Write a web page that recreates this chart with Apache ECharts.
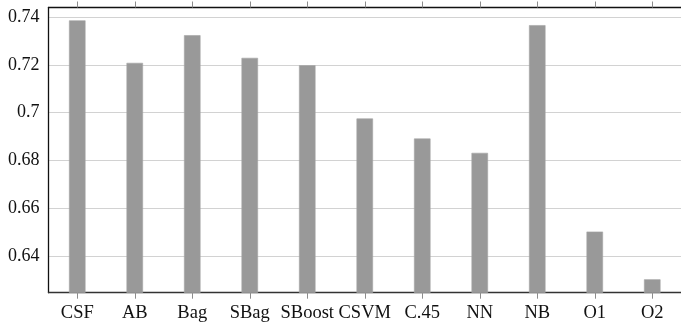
<!DOCTYPE html>
<html>
<head>
<meta charset="utf-8">
<script src="https://cdn.jsdelivr.net/npm/echarts@6/dist/echarts.min.js"></script>
<style>
  html, body { margin: 0; padding: 0; background: #fff; }
  #chart { width: 681px; height: 325px; }
</style>
</head>
<body>
<div id="chart"></div>
<script>
// Classifier names along the x axis
const categories = ['CSF', 'AB', 'Bag', 'SBag', 'SBoost', 'CSVM', 'C.45', 'NN', 'NB', 'O1', 'O2'];
// Score of each classifier
const scores = [0.7387, 0.7209, 0.7325, 0.7230, 0.7199, 0.6976, 0.6892, 0.6832, 0.7367, 0.6502, 0.6302];
// Labelled y values (grid lines)
const yTicks = [0.64, 0.66, 0.68, 0.70, 0.72, 0.74];
// Visible y range
const yMin = 0.6246;
const yMax = 0.7441;

const font = '"Liberation Serif", "Times New Roman", serif';

const chart = echarts.init(document.getElementById('chart'), null, { renderer: 'canvas' });

// Small outward tick at every category centre
function catTick() {
  return { show: true, inside: false, interval: 0, alignWithLabel: true, length: 6, lineStyle: { color: '#8c8c8c', width: 1 } };
}

chart.setOption({
  animation: false,
  backgroundColor: '#ffffff',
  grid: { left: 48.5, right: -8, top: 7.5, bottom: 32.3, containLabel: false },
  xAxis: [
    {
      type: 'category',
      data: categories,
      position: 'bottom',
      axisLine: { show: true, lineStyle: { color: '#333333', width: 1.3 } },
      axisTick: catTick(),
      axisLabel: { interval: 0, margin: 11, color: '#111111', fontFamily: font, fontSize: 18.5 },
      splitLine: { show: false }
    },
    {
      type: 'category',
      data: categories,
      position: 'top',
      axisLine: { show: true, lineStyle: { color: '#111111', width: 1.3 } },
      axisTick: catTick(),
      axisLabel: { show: false },
      splitLine: { show: false }
    }
  ],
  yAxis: {
    type: 'value',
    min: yMin,
    max: yMax,
    axisLine: { show: true, lineStyle: { color: '#111111', width: 1.3 } },
    axisTick: { show: false, customValues: yTicks },
    axisLabel: {
      customValues: yTicks,
      margin: 9,
      color: '#111111',
      fontFamily: font,
      fontSize: 18,
      formatter: v => String(+v.toFixed(2))
    },
    splitLine: { show: true, lineStyle: { color: '#d2d2d2', width: 1.2 } }
  },
  series: [
    {
      type: 'bar',
      data: scores,
      xAxisIndex: 0,
      barWidth: 16.5,
      itemStyle: { color: '#999999', borderColor: '#a4a4a4', borderWidth: 0.6 }
    }
  ]
});
</script>
</body>
</html>
